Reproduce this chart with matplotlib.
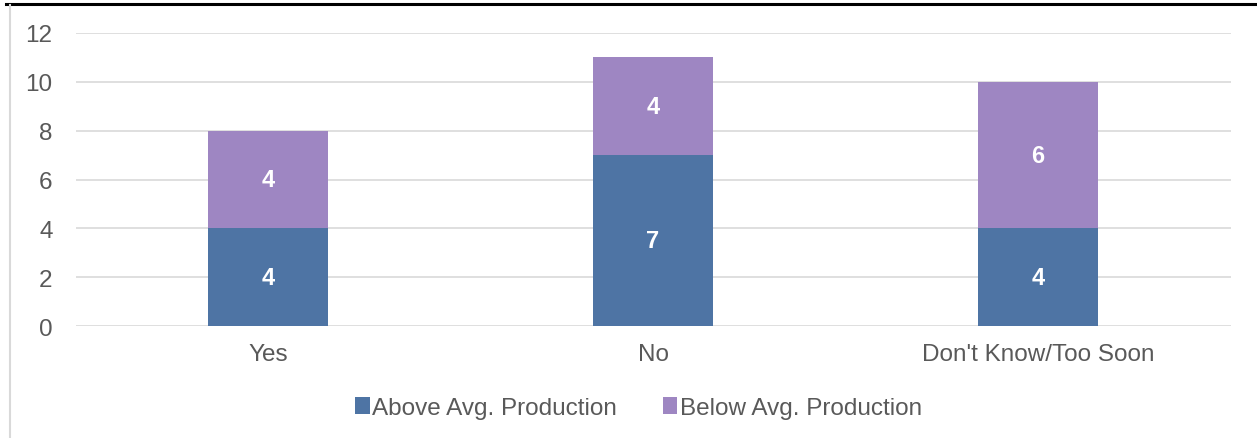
import matplotlib
matplotlib.use("Agg")
import matplotlib.pyplot as plt
from matplotlib.lines import Line2D
import numpy as np

categories = ["Yes", "No", "Don't Know/Too Soon"]
above = [4, 7, 4]
below = [4, 4, 6]
series_names = ["Above Avg. Production", "Below Avg. Production"]
yticks = [0, 2, 4, 6, 8, 10, 12]

c_above = "#4E74A4"
c_below = "#9E86C2"
txt = "#595959"

plt.rcParams['font.family'] = ['Liberation Sans', 'DejaVu Sans']

W, H = 1257, 439
fig = plt.figure(figsize=(W / 100, H / 100), dpi=100)
ax = fig.add_axes([75.5 / W, 1 - 327 / H, (1230.5 - 75.5) / W, (327 - 34) / H])

x = np.arange(len(categories))
bw = 0.312
b1 = ax.bar(x, above, bw, color=c_above, label=series_names[0], zorder=3)
b2 = ax.bar(x, below, bw, bottom=above, color=c_below, label=series_names[1], zorder=3)
for bars, vals, bots in ((b1, above, [0] * 3), (b2, below, above)):
    for xi, v, b in zip(x, vals, bots):
        ax.text(xi, b + v / 2, str(v), ha="center", va="center", color="white",
                fontsize=17, fontweight="bold", zorder=4)

ax.set_xlim(-0.5, len(categories) - 0.5)
ax.set_ylim(0, 12)
ax.set_yticks(yticks)
ax.set_xticks(x)
ax.set_xticklabels(categories)
ax.yaxis.grid(True, color="#D9D9D9", linewidth=1.2, zorder=0)
for s in ax.spines.values():
    s.set_visible(False)
ax.tick_params(axis="both", length=0, labelsize=17.5, colors=txt)
ax.tick_params(axis="y", pad=16.5)
ax.tick_params(axis="x", pad=12.5)

fig.legend(handles=[b1, b2], labels=series_names, loc="center",
           bbox_to_anchor=(0.5 + 10 / W, 1 - 409 / H),
           ncol=2, frameon=False, fontsize=17.5, labelcolor=txt, handlelength=0.6, handleheight=0.7,
           handletextpad=0.1, columnspacing=1.87)

# frame lines
fig.add_artist(Line2D([6 / W, 1], [1 - 4.5 / H, 1 - 4.5 / H], color="black", linewidth=2.2))
fig.add_artist(Line2D([10 / W, 10 / W], [0, 1 - 6 / H], color="#D9D9D9", linewidth=1.5))

fig.savefig("out.png", dpi=100)
